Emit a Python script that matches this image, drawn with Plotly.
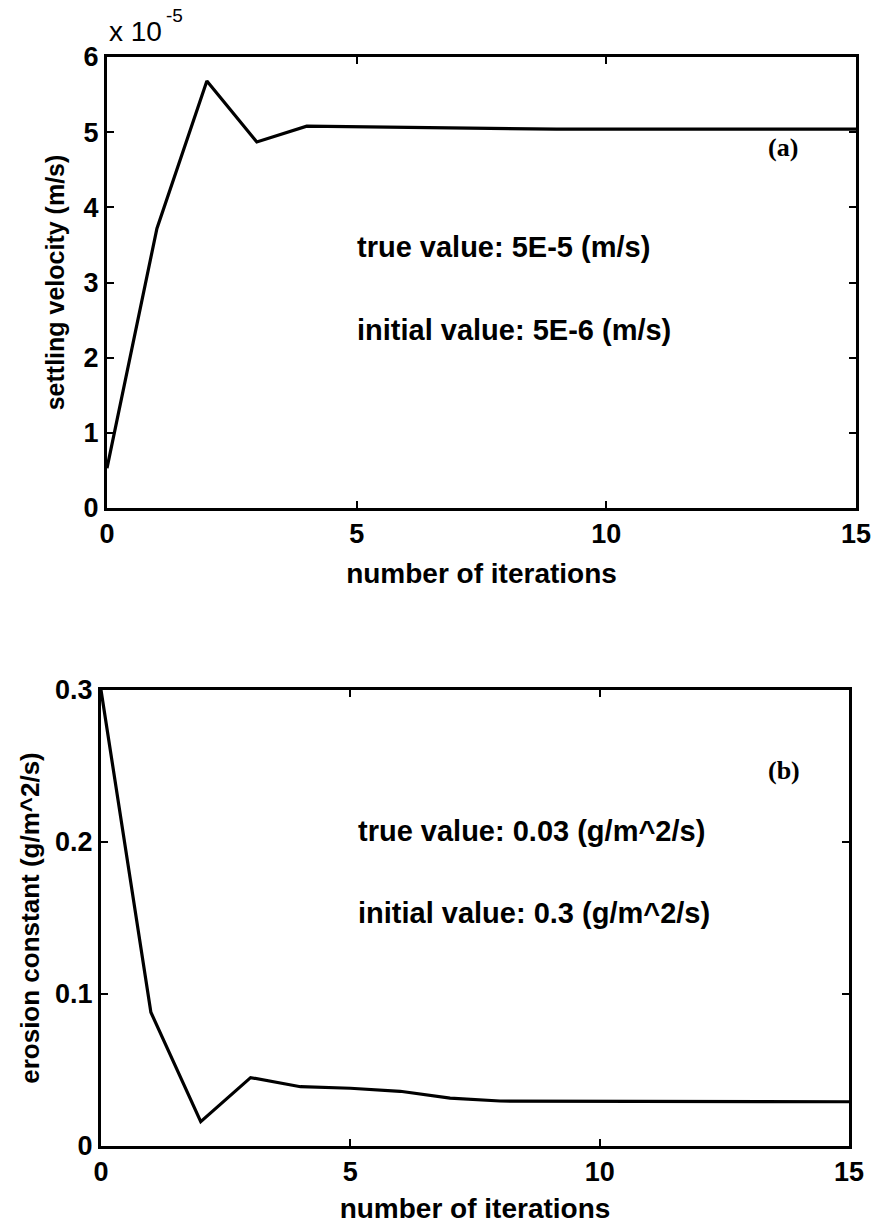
import plotly.graph_objects as go

# iteration index
iterations = list(range(16))

# (a) settling velocity estimate per iteration, m/s
settling_velocity = [0.53e-5, 3.72e-5, 5.68e-5, 4.87e-5, 5.08e-5, 5.07e-5, 5.07e-5, 5.05e-5,
                     5.04e-5, 5.04e-5, 5.04e-5, 5.04e-5, 5.04e-5, 5.04e-5, 5.04e-5, 5.04e-5]

# (b) erosion constant estimate per iteration, g/m^2/s
erosion_constant = [0.300, 0.088, 0.016, 0.045, 0.039, 0.038, 0.036, 0.0315,
                    0.0296, 0.0295, 0.0295, 0.0293, 0.0292, 0.0292, 0.0291, 0.0291]

x_ticks = [0, 5, 10, 15]
vel_ticks = [0, 1e-5, 2e-5, 3e-5, 4e-5, 5e-5, 6e-5]
vel_tick_text = ["0", "1", "2", "3", "4", "5", "6"]
ero_ticks = [0, 0.1, 0.2, 0.3]
ero_tick_text = ["0", "0.1", "0.2", "0.3"]

W, H = 872, 1227
FONT = "Liberation Sans"

fig = go.Figure()
fig.add_trace(go.Scatter(x=iterations, y=settling_velocity, mode="lines",
                         line=dict(color="black", width=3.2), xaxis="x", yaxis="y"))
fig.add_trace(go.Scatter(x=iterations, y=erosion_constant, mode="lines",
                         line=dict(color="black", width=3.2), xaxis="x2", yaxis="y2"))

tick_font = dict(family=FONT, size=27, color="black", weight="bold")


def title_font(size):
    return dict(family=FONT, size=size, color="black", weight="bold")


axis_common = dict(showline=True, linecolor="black", linewidth=3, mirror="ticks",
                   ticks="inside", ticklen=7, tickwidth=2, tickcolor="black",
                   showgrid=False, zeroline=False, tickfont=tick_font, automargin=False)

fig.update_layout(
    width=W, height=H,
    margin=dict(l=0, r=0, t=0, b=0),
    paper_bgcolor="white", plot_bgcolor="white",
    showlegend=False,
    xaxis=dict(axis_common, domain=[107 / W, 856 / W], range=[0, 15], tickvals=x_ticks,
               anchor="y",
               title=dict(text="number of iterations", font=title_font(28), standoff=15)),
    yaxis=dict(axis_common, domain=[1 - 508 / H, 1 - 57 / H], range=[0, 6e-5],
               tickvals=vel_ticks, ticktext=vel_tick_text, anchor="x",
               title=dict(text="settling velocity (m/s)", font=title_font(25), standoff=12)),
    xaxis2=dict(axis_common, domain=[101 / W, 849 / W], range=[0, 15], tickvals=x_ticks,
                anchor="y2",
                title=dict(text="number of iterations", font=title_font(28), standoff=12)),
    yaxis2=dict(axis_common, domain=[1 - 1146 / H, 1 - 690 / H], range=[0, 0.3],
                tickvals=ero_ticks, ticktext=ero_tick_text, anchor="x2",
                title=dict(text="erosion constant (g/m^2/s)", font=title_font(26), standoff=8)),
)

note_font = dict(family=FONT, size=29, color="black", weight="bold")
label_font = dict(family="Liberation Serif", size=26, color="black", weight="bold")

annotations = [
    # axis multiplier for panel (a): "x 10" with a raised exponent
    dict(text="x 10", x=0, y=6e-5, xref="x", yref="y", xanchor="left",
         yanchor="bottom", yshift=8, showarrow=False,
         font=dict(family=FONT, size=28, color="black")),
    dict(text="-5", x=1.15, y=6e-5, xref="x", yref="y", xanchor="left",
         yanchor="bottom", yshift=29, showarrow=False,
         font=dict(family=FONT, size=19, color="black")),
    dict(text="(a)", x=13.54, y=4.79e-5, xref="x", yref="y", showarrow=False, font=label_font),
    dict(text="true value: 5E-5 (m/s)", x=4.96, y=3.47e-5, xref="x", yref="y",
         xanchor="left", showarrow=False, font=note_font),
    dict(text="initial value: 5E-6 (m/s)", x=4.96, y=2.37e-5, xref="x", yref="y",
         xanchor="left", showarrow=False, font=note_font),
    dict(text="(b)", x=13.7, y=0.247, xref="x2", yref="y2", showarrow=False, font=label_font),
    dict(text="true value: 0.03 (g/m^2/s)", x=5.12, y=0.207, xref="x2", yref="y2",
         xanchor="left", showarrow=False, font=note_font),
    dict(text="initial value: 0.3 (g/m^2/s)", x=5.12, y=0.153, xref="x2", yref="y2",
         xanchor="left", showarrow=False, font=note_font),
]
fig.update_layout(annotations=annotations)

fig.write_html("out.html")
